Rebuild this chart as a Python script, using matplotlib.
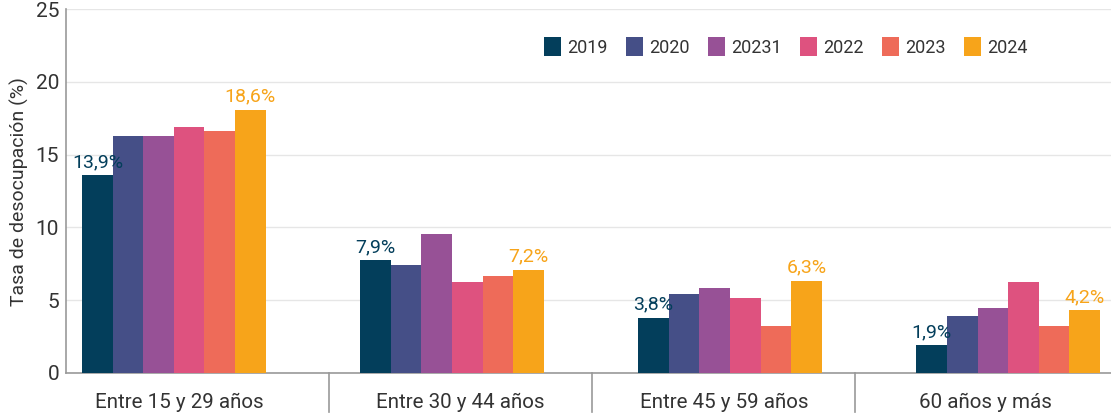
import numpy as np
import matplotlib
matplotlib.use("Agg")
import matplotlib.pyplot as plt

plt.rcParams['font.family'] = ['Roboto', 'DejaVu Sans']

# data
categories = ["Entre 15 y 29 años", "Entre 30 y 44 años", "Entre 45 y 59 años", "60 años y más"]
series = ["2019", "2020", "20231", "2022", "2023", "2024"]
values = {
	"2019": [13.6, 7.75, 3.8, 1.9],
	"2020": [16.3, 7.4, 5.45, 3.9],
	"20231": [16.3, 9.55, 5.85, 4.45],
	"2022": [16.9, 6.25, 5.15, 6.25],
	"2023": [16.6, 6.7, 3.25, 3.25],
	"2024": [18.1, 7.1, 6.35, 4.3],
}
first_labels = ["13,9%", "7,9%", "3,8%", "1,9%"]
last_labels = ["18,6%", "7,2%", "6,3%", "4,2%"]

colors = {
	"2019": "#033e5b",
	"2020": "#454f87",
	"20231": "#975196",
	"2022": "#de527f",
	"2023": "#ee6b59",
	"2024": "#f7a41a",
}

fig = plt.figure(figsize=(11.11, 4.16), dpi=100)
ax = fig.add_axes([0.0594, 0.1034, 0.9406, 0.8744])

x = np.arange(len(categories))
width = 0.11
offsets = (np.arange(len(series)) - (len(series) - 1) / 2) * width

for i, s in enumerate(series):
	ax.bar(x + offsets[i], values[s], width, color=colors[s], label=s, zorder=3)

for j in range(len(categories)):
	ax.annotate(first_labels[j], (x[j] + offsets[0], values["2019"][j]),
		xytext=(0, 3), textcoords="offset points", ha="center", va="bottom",
		color=colors["2019"], fontsize=14)
	ax.annotate(last_labels[j], (x[j] + offsets[-1], values["2024"][j]),
		xytext=(0, 3), textcoords="offset points", ha="center", va="bottom",
		color=colors["2024"], fontsize=14)

ax.set_ylim(0, 25)
ax.set_yticks([0, 5, 10, 15, 20, 25])
ax.set_xlim(-0.388, 3.37)
ax.grid(axis="y", color="#e6e6e6", linewidth=1, zorder=0)
ax.tick_params(axis="y", length=0, pad=5, labelsize=15, labelcolor="#333333")
ax.tick_params(axis="x", length=0, pad=14, labelsize=14.8, labelcolor="#333333")
ax.set_xticks([0.02, 1.03, 1.98, 2.92])
ax.set_xticklabels(categories)
ax.set_ylabel("Tasa de desocupación (%)", fontsize=14, color="#333333", labelpad=5)

for sp in ["top", "right"]:
	ax.spines[sp].set_visible(False)
for sp in ["left", "bottom"]:
	ax.spines[sp].set_color("#999999")
	ax.spines[sp].set_linewidth(1.2)

# group separators below the axis
for sx in [0.558, 1.504, 2.45]:
	ax.plot([sx, sx], [0, -2.7], color="#999999", linewidth=1.2, clip_on=False)

leg = ax.legend(ncol=6, loc="center right", bbox_to_anchor=(0.9206, 0.896), frameon=False,
	fontsize=13, handlelength=0.95, handleheight=1.25, columnspacing=1.0,
	handletextpad=0.35, borderaxespad=0, borderpad=0)
for t in leg.get_texts():
	t.set_color("#333333")

fig.savefig("out.png", dpi=100)
